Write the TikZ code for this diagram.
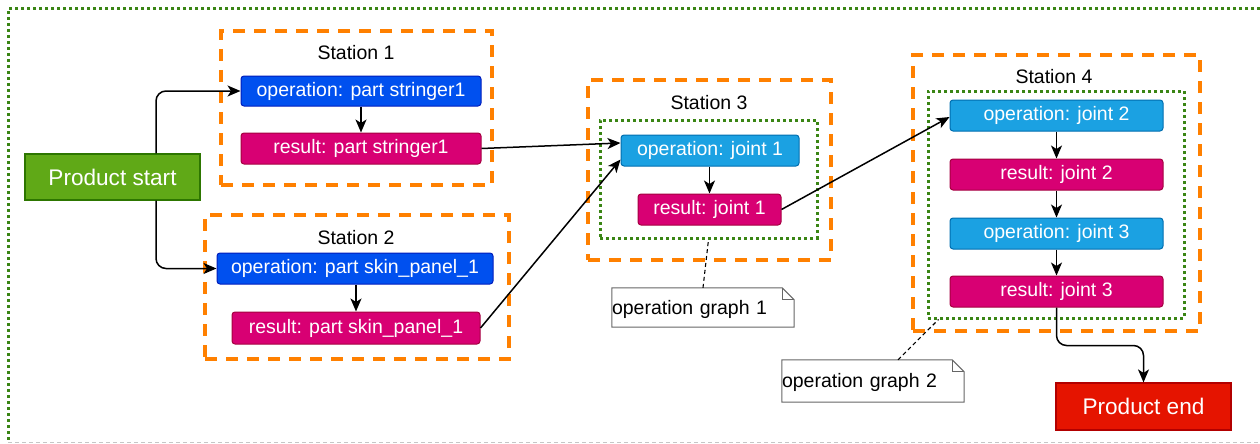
\documentclass[tikz,border=0pt]{standalone}
\usepackage{fontspec}
\setmainfont{Liberation Sans}
\usetikzlibrary{arrows.meta}

\definecolor{opblue}{HTML}{0050EF}
\definecolor{opbluedk}{HTML}{001DBC}
\definecolor{jointblue}{HTML}{1BA1E2}
\definecolor{jointbluedk}{HTML}{006EAF}
\definecolor{resmag}{HTML}{D80073}
\definecolor{resmagdk}{HTML}{A50040}
\definecolor{startgreen}{HTML}{60A917}
\definecolor{startgreendk}{HTML}{2D7600}
\definecolor{endred}{HTML}{E51400}
\definecolor{endreddk}{HTML}{B20000}
\definecolor{stationorange}{HTML}{FF8000}
\definecolor{graphgreen}{HTML}{3A8514}
\definecolor{notegray}{HTML}{666666}

\tikzset{
  task/.style={rectangle, rounded corners=3pt, line width=1pt, text=white,
    font=\fontsize{19.5}{22}\selectfont, minimum height=31pt, inner sep=0pt},
  opnode/.style={task, fill=opblue, draw=opbluedk},
  jointop/.style={task, fill=jointblue, draw=jointbluedk},
  resnode/.style={task, fill=resmag, draw=resmagdk},
  terminal/.style={rectangle, line width=1.2pt, text=white,
    font=\fontsize{22.6}{25}\selectfont, inner sep=0pt},
  station/.style={rectangle, draw=stationorange, line width=4pt,
    dash pattern=on 12pt off 9pt, inner sep=0pt},
  opgraph/.style={rectangle, draw=graphgreen, line width=3pt,
    dash pattern=on 3pt off 3pt, inner sep=0pt},
  title/.style={font=\fontsize{19.5}{22}\selectfont, text=black, inner sep=0pt},
  notebox/.style={font=\fontsize{19.5}{22}\selectfont, text=black,
    align=left, inner sep=0pt, text width=182pt},
  flow/.style={draw=black, line width=1.5pt, rounded corners=10pt,
    -{Stealth[length=13pt,width=11pt,inset=3.5pt]}},
  link/.style={draw=black, line width=1.1pt, dash pattern=on 4pt off 3pt},
}

\begin{document}
\begin{tikzpicture}[x=1pt,y=-1pt]
\useasboundingbox (0,0) rectangle (1260,444);

% frame of the whole product flow
\draw[graphgreen, line width=3pt, dash pattern=on 3pt off 3pt]
  (1260,9) -- (8,9) -- (8,442);
\draw[gray!45, line width=1pt, dash pattern=on 4pt off 3pt] (8,442) -- (1260,442);

% stations
\node[station, minimum width=271pt, minimum height=154pt] (st1) at (356.5,108) {};
\node[station, minimum width=304pt, minimum height=144pt] (st2) at (357,287) {};
\node[station, minimum width=243pt, minimum height=180pt] (st3) at (709.5,170) {};
\node[station, minimum width=287pt, minimum height=276pt] (st4) at (1056.5,193) {};

\node[title] (t1) at (356,53) {Station 1};
\node[title] (t2) at (356,238) {Station 2};
\node[title] (t3) at (709,103) {Station 3};
\node[title] (t4) at (1054,77) {Station 4};

% operation graphs
\node[opgraph, minimum width=217pt, minimum height=118pt] (g1) at (708.5,179) {};
\node[opgraph, minimum width=256pt, minimum height=227pt] (g2) at (1056,204.5) {};

% start / end
\node[terminal, fill=startgreen, draw=startgreendk, minimum width=175pt, minimum height=46pt]
  (start) at (112.5,177) {Product start};
\node[terminal, fill=endred, draw=endreddk, minimum width=175pt, minimum height=47pt]
  (end) at (1143.5,406.5) {Product end};

% station 1
\node[opnode, minimum width=240pt, minimum height=30pt] (opS1) at (361,91) {operation: part stringer1};
\node[resnode, minimum width=240pt] (resS1) at (361,148.5) {result: part stringer1};

% station 2
\node[opnode, minimum width=276pt] (opSk) at (355,268.5) {operation: part skin\_panel\_1};
\node[resnode, minimum width=248pt, minimum height=32pt] (resSk) at (356,328) {result: part skin\_panel\_1};

% station 3
\node[jointop, minimum width=178pt] (opJ1) at (710,150.5) {operation: joint 1};
\node[resnode, minimum width=143pt] (resJ1) at (709.5,209.5) {result: joint 1};

% station 4
\node[jointop, minimum width=213pt] (opJ2) at (1056.5,115.5) {operation: joint 2};
\node[resnode, minimum width=213pt] (resJ2) at (1056.5,174.5) {result: joint 2};
\node[jointop, minimum width=213pt] (opJ3) at (1056.5,233.5) {operation: joint 3};
\node[resnode, minimum width=213pt] (resJ3) at (1056.5,291.5) {result: joint 3};

% notes
\node[notebox, minimum height=39pt] (n1) at (703,307.5) {};
\node[notebox, minimum height=42pt] (n2) at (873,381) {};
\foreach \n in {n1,n2}{
  \draw[notegray, line width=1pt, fill=white]
    (\n.south west) -- (\n.north west) -- ([xshift=-12pt]\n.north east)
    -- ([yshift=-12pt]\n.north east) -- (\n.south east) -- cycle;
  \draw[notegray, line width=1pt]
    ([xshift=-12pt]\n.north east) |- ([yshift=-12pt]\n.north east);
}
\node[notebox, minimum height=39pt] (n1text) at ([yshift=-2pt]n1.center) {operation graph 1};
\node[notebox, minimum height=42pt] (n2text) at ([yshift=-1pt]n2.center) {operation graph 2};

\draw[link] (n1.north) -- (g1.south);
\draw[link] ([xshift=25pt]n2.north) -- ([xshift=12pt]g2.south west);

% flow
\draw[flow] ([xshift=43.5pt]start.north) |- (opS1.west);
\draw[flow] ([xshift=43.5pt]start.south) |- (opSk.west);
\draw[flow] (opS1) -- (resS1);
\draw[flow] (opSk.south -| resSk.north) -- (resSk.north);
\draw[flow] (resS1.east) -- ([yshift=7.5pt]opJ1.west);
\draw[flow] (resSk.east) -- ([yshift=-9pt]opJ1.west);
\draw[flow] (opJ1.south -| resJ1.north) -- (resJ1.north);
\draw[flow] (resJ1.east) -- ([yshift=-1.5pt]opJ2.west);
\draw[flow] (opJ2) -- (resJ2);
\draw[flow] (resJ2) -- (opJ3);
\draw[flow] (opJ3) -- (resJ3);
\draw[flow] (resJ3.south) -- ++(0,38) -| (end.north);
\end{tikzpicture}
\end{document}
